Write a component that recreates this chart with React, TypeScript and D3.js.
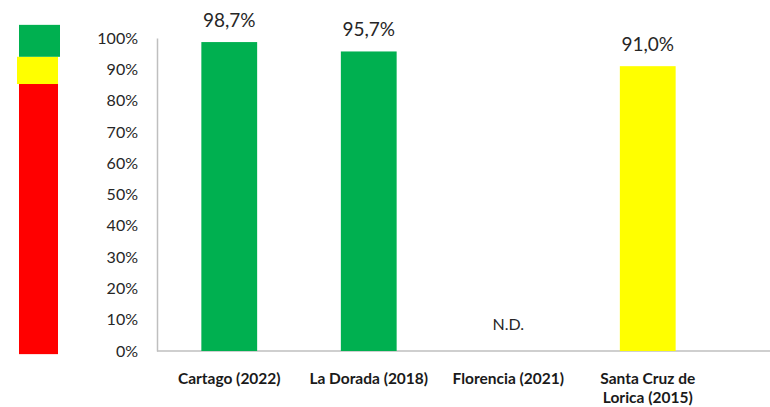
import React, { useRef, useEffect } from 'react';
import * as d3 from 'd3';

// Data
const categories = ['Cartago (2022)', 'La Dorada (2018)', 'Florencia (2021)', 'Santa Cruz de|Lorica (2015)'];
const values: (number | null)[] = [98.7, 95.7, null, 91.0];
const barColors = ['#00B050', '#00B050', '#00B050', '#FFFF00'];
const yTicks = [0, 10, 20, 30, 40, 50, 60, 70, 80, 90, 100];

// traffic light bands (percent)
const bandColors = ['#FF0000', '#FFFF00', '#00B050'];
const bandFrom = [-1, 85.3, 94];
const bandTo = [85.3, 94, 104.2];

const FONT = 'Lato, "Open Sans", sans-serif';

function Chart({ width = 770, height = 407 }) {
  const svgRef = useRef<SVGSVGElement | null>(null);

  useEffect(() => {
    const svg = d3.select(svgRef.current);
    svg.selectAll('*').remove();

    const yScale = d3.scaleLinear().domain([0, 100]).range([351, 38]);
    const xScale = d3.scaleBand<string>()
      .domain(categories)
      .range([159.5, 717.5])
      .paddingInner(0.6)
      .paddingOuter(0.3);

    // color scale bar on the left
    bandColors.forEach((c, i) => {
      svg.append('rect')
        .attr('x', i === 1 ? 17 : 19)
        .attr('y', yScale(bandTo[i]))
        .attr('width', i === 0 ? 39 : 41)
        .attr('height', yScale(bandFrom[i]) - yScale(bandTo[i]))
        .attr('fill', c);
    });

    // y axis
    const yAxis = svg.append('g')
      .attr('transform', 'translate(157,0)')
      .call(d3.axisLeft(yScale).tickValues(yTicks).tickSize(0).tickPadding(19).tickFormat(d => `${d}%`));
    yAxis.select('.domain').attr('stroke', '#bfbfbf').attr('stroke-width', 1.5);
    yAxis.selectAll('text')
      .attr('fill', '#262626')
      .style('font-family', FONT)
      .style('font-size', '16px');

    // baseline
    svg.append('line')
      .attr('x1', 157)
      .attr('x2', width)
      .attr('y1', yScale(0))
      .attr('y2', yScale(0))
      .attr('stroke', '#bfbfbf')
      .attr('stroke-width', 1.5);

    // bars
    categories.forEach((cat, i) => {
      const v = values[i];
      const cx = (xScale(cat) as number) + xScale.bandwidth() / 2;
      if (v !== null) {
        svg.append('rect')
          .attr('x', xScale(cat) as number)
          .attr('y', yScale(v))
          .attr('width', xScale.bandwidth())
          .attr('height', yScale(0) - yScale(v))
          .attr('fill', barColors[i]);
      }
      svg.append('text')
        .attr('x', cx)
        .attr('y', v !== null ? yScale(v) - 15 : yScale(0) - 21)
        .attr('text-anchor', 'middle')
        .attr('fill', '#262626')
        .style('font-family', FONT)
        .style('font-size', v !== null ? '19px' : '16px')
        .text(v !== null ? `${v.toFixed(1).replace('.', ',')}%` : 'N.D.');

      // category label
      const lines = cat.split('|');
      lines.forEach((ln, j) => {
        svg.append('text')
          .attr('x', cx)
          .attr('y', 384 + j * 19)
          .attr('text-anchor', 'middle')
          .attr('fill', '#1a1a1a')
          .style('font-family', FONT)
          .style('font-weight', 'bold')
          .style('font-size', '15.5px')
          .text(ln);
      });
    });
  }, [width, height]);

  return (
    <svg ref={svgRef} width={width} height={height}
      style={{ position: 'absolute', left: 0, top: 0, background: '#fff' }} />
  );
}

export default function App() {
  return <Chart />;
}
